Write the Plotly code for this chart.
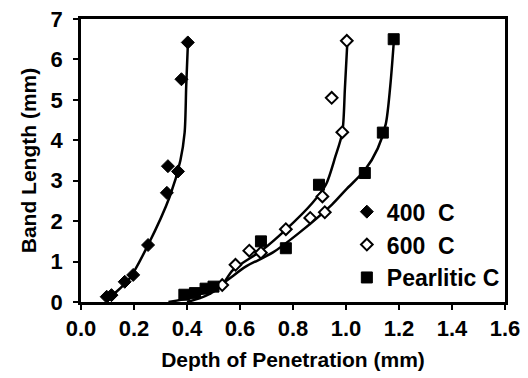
import plotly.graph_objects as go

# Measured points: depth of penetration (mm) vs band length (mm)
depth_400 = [0.403, 0.379, 0.328, 0.366, 0.324, 0.253, 0.197, 0.165, 0.115, 0.097]
band_400 = [6.42, 5.51, 3.36, 3.23, 2.70, 1.41, 0.67, 0.50, 0.17, 0.13]

depth_600 = [1.003, 0.946, 0.986, 0.911, 0.920, 0.865, 0.773, 0.635, 0.679, 0.583, 0.533]
band_600 = [6.46, 5.05, 4.20, 2.61, 2.22, 2.08, 1.80, 1.27, 1.22, 0.92, 0.42]

depth_pearl = [1.18, 1.139, 1.071, 0.898, 0.679, 0.773, 0.39, 0.43, 0.47, 0.50]
band_pearl = [6.50, 4.19, 3.19, 2.90, 1.50, 1.33, 0.18, 0.22, 0.33, 0.38]

# Hand-drawn trend curves (points along each fitted line)
fit_400_x = [0.10, 0.12, 0.184, 0.253, 0.335, 0.375, 0.391, 0.397, 0.403]
fit_400_y = [0.05, 0.17, 0.59, 1.41, 2.61, 3.50, 4.19, 5.34, 6.33]

fit_600_x = [0.40, 0.47, 0.53, 0.573, 0.685, 0.773, 0.873, 0.924, 0.96, 0.986, 0.996, 1.005]
fit_600_y = [0.0, 0.15, 0.40, 0.79, 1.29, 1.79, 2.45, 2.90, 3.60, 4.19, 5.30, 6.42]

fit_pearl_x = [0.33, 0.42, 0.52, 0.623, 0.723, 0.823, 0.947, 1.0, 1.07, 1.12, 1.15, 1.167, 1.18]
fit_pearl_y = [0.0, 0.12, 0.40, 0.88, 1.22, 1.71, 2.41, 2.78, 3.25, 3.80, 4.40, 5.34, 6.40]

x_ticks = [0.0, 0.2, 0.4, 0.6, 0.8, 1.0, 1.2, 1.4, 1.6]
y_ticks = [0, 1, 2, 3, 4, 5, 6, 7]

FONT = "Liberation Sans, Arial, sans-serif"
INK = "black"

fig = go.Figure()

for fx, fy in [(fit_400_x, fit_400_y), (fit_600_x, fit_600_y), (fit_pearl_x, fit_pearl_y)]:
    fig.add_trace(go.Scatter(
        x=fx, y=fy, mode="lines", showlegend=False, hoverinfo="skip",
        line=dict(color=INK, width=2.5, shape="spline", smoothing=0.8),
    ))

fig.add_trace(go.Scatter(
    x=depth_400, y=band_400, mode="markers", name="400  C", legendgroup="a",
    marker=dict(symbol="diamond", size=10, color=INK, line=dict(color=INK, width=1)),
))
fig.add_trace(go.Scatter(
    x=depth_600, y=band_600, mode="markers", name="600  C", legendgroup="b",
    marker=dict(symbol="diamond", size=9, color="white", line=dict(color=INK, width=2)),
))
fig.add_trace(go.Scatter(
    x=depth_pearl, y=band_pearl, mode="markers", name="Pearlitic C", legendgroup="c",
    marker=dict(symbol="square", size=11, color=INK, line=dict(color=INK, width=1)),
))

axis_common = dict(
    showgrid=False, zeroline=False, showline=True, linecolor=INK, linewidth=2.8,
    mirror=True, ticks="outside", ticklen=5, tickwidth=1.5, tickcolor=INK,
    automargin=False,
    tickfont=dict(family=FONT, size=22, color=INK, weight="bold"),
)

fig.update_layout(
    width=528, height=378,
    margin=dict(l=81, r=23, t=19, b=76),
    paper_bgcolor="white", plot_bgcolor="white",
    font=dict(family=FONT, color=INK),
    xaxis=dict(
        range=[0, 1.6], tickvals=x_ticks, ticktext=[f"{v:.1f}" for v in x_ticks],
        title=dict(text="Depth of Penetration (mm)", standoff=13,
                   font=dict(family=FONT, size=21, color=INK, weight="bold")),
        **axis_common,
    ),
    yaxis=dict(
        range=[0, 7], tickvals=y_ticks, ticklabelstandoff=6,
        title=dict(text="Band Length (mm)", standoff=9,
                   font=dict(family=FONT, size=21, color=INK, weight="bold")),
        **axis_common,
    ),
    legend=dict(
        x=0.627, y=0.395, xanchor="left", yanchor="top",
        bgcolor="rgba(0,0,0,0)", borderwidth=0, tracegroupgap=0,
        font=dict(family=FONT, size=23, color=INK, weight="bold"),
    ),
)

fig.write_html("out.html")
